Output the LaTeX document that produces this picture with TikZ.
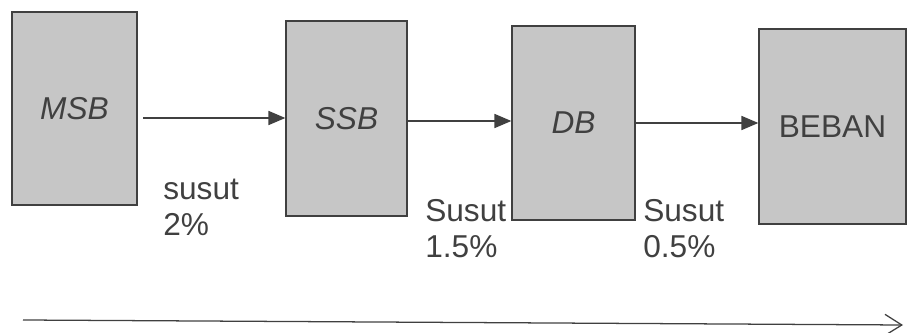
\documentclass[tikz,border=0pt]{standalone}
\usepackage{fontspec}
\setmainfont{Liberation Sans}
\usetikzlibrary{arrows.meta,positioning}

\definecolor{boxgray}{RGB}{198,198,198}
\definecolor{inkgray}{RGB}{64,64,64}

\tikzset{
  panel/.style={draw=inkgray, line width=0.9pt, fill=boxgray, inner sep=0pt,
    text=inkgray, font=\fontsize{22.5}{26}\selectfont},
  flow/.style={draw=inkgray, line width=0.9pt, -{Triangle[length=12pt,width=10pt]}},
  loss/.style={anchor=north west, align=left, inner sep=0pt, text=inkgray,
    font=\fontsize{22.5}{25.6}\selectfont}
}

\begin{document}
\begin{tikzpicture}[x=0.025cm,y=-0.025cm]
\useasboundingbox (0,0) rectangle (909,333);

\node[panel, minimum width=3.125cm, minimum height=4.825cm] (msb) at (74.5,108.5) {\itshape MSB};
\node[panel, minimum width=3.025cm, minimum height=4.875cm] (ssb) at (346.5,118.5) {\itshape SSB};
\node[panel, minimum width=3.075cm, minimum height=4.85cm] (db) at (573.5,123) {\itshape DB};
\node[panel, minimum width=3.675cm, minimum height=4.875cm] (beban) at (832.5,126.5) {BEBAN};

% losses between the boards
\node[loss] (loss1) at (163,179) {susut\\2\%};
\node[loss] (loss2) at (425,199) {Susut\\1.5\%};
\node[loss] (loss3) at (643,199) {Susut\\0.5\%};

\coordinate (tap) at (143,118);
\path[flow]
(tap) -- (tap -| ssb.west);
\path[flow]
(ssb.east |- 0,121) -- (db.west |- 0,121);
\path[flow]
(db.east |- 0,123) -- (beban.west |- 0,123);

% direction of supply
\coordinate (flowstart) at (23,320);
\coordinate (flowend) at (903,325);
\draw[inkgray, line width=0.9pt, -{Straight Barb[length=12pt,width=15pt]}] (flowstart) -- (flowend);
\end{tikzpicture}
\end{document}
